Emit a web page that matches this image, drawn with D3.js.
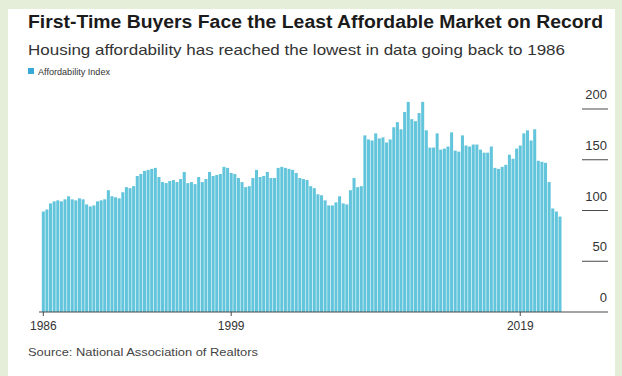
<!DOCTYPE html>
<html>
<head>
<meta charset="utf-8">
<script src="https://cdn.jsdelivr.net/npm/d3@7"></script>
<style>
  html, body { margin: 0; padding: 0; background: #e4eed9; }
  svg { display: block; }
</style>
</head>
<body>
<svg id="chart" width="622" height="376"></svg>
<script>
// Quarterly first-time buyer affordability index, 1986 through 2021
const years = [1986, 1987, 1988, 1989, 1990, 1991, 1992, 1993, 1994, 1995, 1996, 1997,
  1998, 1999, 2000, 2001, 2002, 2003, 2004, 2005, 2006, 2007, 2008, 2009,
  2010, 2011, 2012, 2013, 2014, 2015, 2016, 2017, 2018, 2019, 2020, 2021];
const quarters = ["Q1", "Q2", "Q3", "Q4"];

// one row per year, four quarters each
const affordability = [
  99, 101, 107, 109,
  110, 109, 111, 114,
  111, 110, 112, 111,
  106, 104, 105, 109,
  110, 111, 120, 114,
  113, 112, 118, 123,
  122, 124, 134, 136,
  139, 140, 141, 142,
  133, 128, 127, 129,
  130, 128, 131, 138,
  127, 128, 126, 133,
  128, 131, 138, 134,
  135, 136, 143, 142,
  137, 136, 132, 128,
  123, 124, 132, 140,
  133, 134, 138, 132,
  132, 142, 143, 142,
  141, 140, 137, 132,
  131, 130, 124, 122,
  116, 115, 110, 105,
  105, 108, 114, 107,
  106, 120, 132, 123,
  124, 174, 170, 169,
  176, 171, 172, 167,
  170, 182, 187, 180,
  197, 207, 190, 188,
  196, 207, 179, 162,
  162, 176, 160, 161,
  163, 177, 159, 158,
  174, 164, 163, 165,
  165, 160, 157, 157,
  163, 142, 141, 143,
  145, 155, 151, 161,
  164, 176, 179, 169,
  180, 149, 148, 147,
  128, 102, 99, 94
];

const xTickYears = [1986, 1999, 2019];
const yTicks = [0, 50, 100, 150, 200];

const titleText = "First-Time Buyers Face the Least Affordable Market on Record";
const subtitleText = "Housing affordability has reached the lowest in data going back to 1986";
const legendText = "Affordability Index";
const sourceText = "Source: National Association of Realtors";

const periods = years.flatMap(y => quarters.map(q => `${y} ${q}`));
const data = periods.map((p, i) => ({ period: p, value: affordability[i] }));

const svg = d3.select("#chart");
const font = "'Liberation Sans', Arial, Helvetica, sans-serif";

// white card on the green page
svg.append("rect")
  .attr("x", 8).attr("y", 9)
  .attr("width", 607).attr("height", 367)
  .attr("fill", "#ffffff");

const x = d3.scaleBand()
  .domain(periods)
  .range([41.8, 561.5])
  .paddingInner(0.16)
  .paddingOuter(0);

const y = d3.scaleLinear()
  .domain([0, 200])
  .range([312, 109]);

// bars
svg.append("g")
  .selectAll("rect")
  .data(data)
  .join("rect")
  .attr("x", d => x(d.period))
  .attr("y", d => y(d.value))
  .attr("width", x.bandwidth())
  .attr("height", d => y(0) - y(d.value))
  .attr("fill", "#62c5db");

// right-hand value axis: short rules with the label above each
const yAxis = svg.append("g");
yAxis.selectAll("line.grid")
  .data(yTicks.filter(t => t > 0))
  .join("line")
  .attr("class", "grid")
  .attr("x1", 582).attr("x2", 608)
  .attr("y1", d => y(d)).attr("y2", d => y(d))
  .attr("stroke", "#4a4a4a")
  .attr("stroke-width", 1);
yAxis.selectAll("text")
  .data(yTicks)
  .join("text")
  .attr("x", 607)
  .attr("y", d => y(d) - 10)
  .attr("text-anchor", "end")
  .attr("font-family", font)
  .attr("font-size", 13)
  .attr("fill", "#333")
  .text(d => d);

// baseline and time axis
const xAxis = svg.append("g").attr("transform", `translate(0,${y(0)})`)
  .call(d3.axisBottom(x)
    .tickValues(xTickYears.map(yr => `${yr} Q1`))
    .tickFormat(d => d.slice(0, 4))
    .tickSize(4)
    .tickSizeOuter(0)
    .tickPadding(5));
xAxis.select(".domain").remove();
xAxis.insert("line", ":first-child")
  .attr("x1", 39).attr("x2", 608)
  .attr("y1", 0).attr("y2", 0)
  .attr("stroke", "#4a4a4a").attr("stroke-width", 1.2);
xAxis.selectAll(".tick line").attr("stroke", "#4a4a4a");
xAxis.selectAll(".tick text")
  .attr("font-family", font)
  .attr("font-size", 12)
  .attr("fill", "#333");

// headings
svg.append("text")
  .attr("x", 28).attr("y", 28)
  .attr("font-family", font)
  .attr("font-weight", "bold")
  .attr("font-size", 18)
  .attr("textLength", 575)
  .attr("lengthAdjust", "spacingAndGlyphs")
  .attr("fill", "#1b1b1b")
  .text(titleText);
svg.append("text")
  .attr("x", 28).attr("y", 55)
  .attr("font-family", font)
  .attr("font-size", 15)
  .attr("textLength", 537)
  .attr("lengthAdjust", "spacingAndGlyphs")
  .attr("fill", "#333")
  .text(subtitleText);

// legend
svg.append("rect")
  .attr("x", 28).attr("y", 68)
  .attr("width", 6).attr("height", 6)
  .attr("fill", "#38a8d9");
svg.append("text")
  .attr("x", 38).attr("y", 75)
  .attr("font-family", font)
  .attr("font-size", 9.5)
  .attr("textLength", 72)
  .attr("lengthAdjust", "spacingAndGlyphs")
  .attr("fill", "#333")
  .text(legendText);

// source
svg.append("text")
  .attr("x", 28).attr("y", 356)
  .attr("font-family", font)
  .attr("font-size", 11)
  .attr("textLength", 230)
  .attr("lengthAdjust", "spacingAndGlyphs")
  .attr("fill", "#444")
  .text(sourceText);
</script>
</body>
</html>
